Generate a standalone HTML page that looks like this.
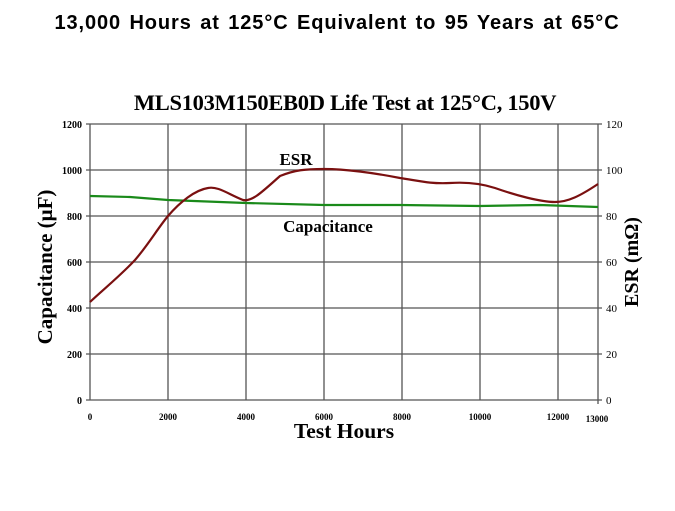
<!DOCTYPE html><html><head><style>body{margin:0;background:#fff;width:675px;height:506px;overflow:hidden}</style></head><body>
<svg width="675" height="506" xmlns="http://www.w3.org/2000/svg" font-family="Liberation Serif, serif">
<text x="337" y="29" text-anchor="middle" font-family="Liberation Sans, sans-serif" font-weight="bold" font-size="20" letter-spacing="0.9" word-spacing="2">13,000 Hours at 125°C Equivalent to 95 Years at 65°C</text>
<text x="345" y="110" text-anchor="middle" font-weight="bold" font-size="22.5" letter-spacing="-0.3">MLS103M150EB0D Life Test at 125°C, 150V</text>
<g stroke="#555" stroke-width="1.3" fill="none">
<path d="M90 124H598M90 170H598M90 216H598M90 262H598M90 308H598M90 354H598M90 400H598"/>
<path d="M90 124V400M168 124V400M246 124V400M324 124V400M402 124V400M480 124V400M558 124V400M598 124V404"/>
<path d="M86 124H90M86 170H90M86 216H90M86 262H90M86 308H90M86 354H90M86 400H90M598 124H602M598 170H602M598 216H602M598 262H602M598 308H602M598 354H602M598 400H602"/>
</g>
<g font-size="10" text-anchor="end" font-weight="bold">
<text x="82" y="128">1200</text><text x="82" y="174">1000</text><text x="82" y="220">800</text><text x="82" y="266">600</text><text x="82" y="312">400</text><text x="82" y="358">200</text><text x="82" y="404">0</text>
</g>
<g font-size="11" text-anchor="start">
<text x="606" y="128">120</text><text x="606" y="174">100</text><text x="606" y="220">80</text><text x="606" y="266">60</text><text x="606" y="312">40</text><text x="606" y="358">20</text><text x="606" y="404">0</text>
</g>
<g font-size="9" text-anchor="middle" font-weight="bold">
<text x="90" y="420">0</text><text x="168" y="420">2000</text><text x="246" y="420">4000</text><text x="324" y="420">6000</text><text x="402" y="420">8000</text><text x="480" y="420">10000</text><text x="558" y="420">12000</text><text x="597" y="422">13000</text>
</g>
<text x="344" y="438" text-anchor="middle" font-weight="bold" font-size="21.5">Test Hours</text>
<text transform="translate(52,267) rotate(-90)" text-anchor="middle" font-weight="bold" font-size="21">Capacitance (μF)</text>
<text transform="translate(638,262) rotate(-90)" text-anchor="middle" font-weight="bold" font-size="20">ESR (mΩ)</text>
<text x="296" y="165" text-anchor="middle" font-weight="bold" font-size="17">ESR</text>
<text x="328" y="232" text-anchor="middle" font-weight="bold" font-size="17">Capacitance</text>
<path d="M90 196 L130 197 L168 200 L246 203 L324 205 L400 205 L480 206 L540 205 L598 207" stroke="#1a8a1a" stroke-width="2.2" fill="none"/>
<path d="M90 302 C105 288 120 276 135 260 C148 245 158 228 168 216 C180 202 195 190 208 188 C218 186 228 194 243 200 C252 202 262 192 280 176 C295 170 305 169 324 169 C345 169 375 173 400 178 C420 181 430 184 450 183 C465 182 480 183 495 188 C515 195 540 202 555 202 C568 202 580 196 598 184" stroke="#7a1010" stroke-width="2.2" fill="none"/>
</svg>
</body></html>
